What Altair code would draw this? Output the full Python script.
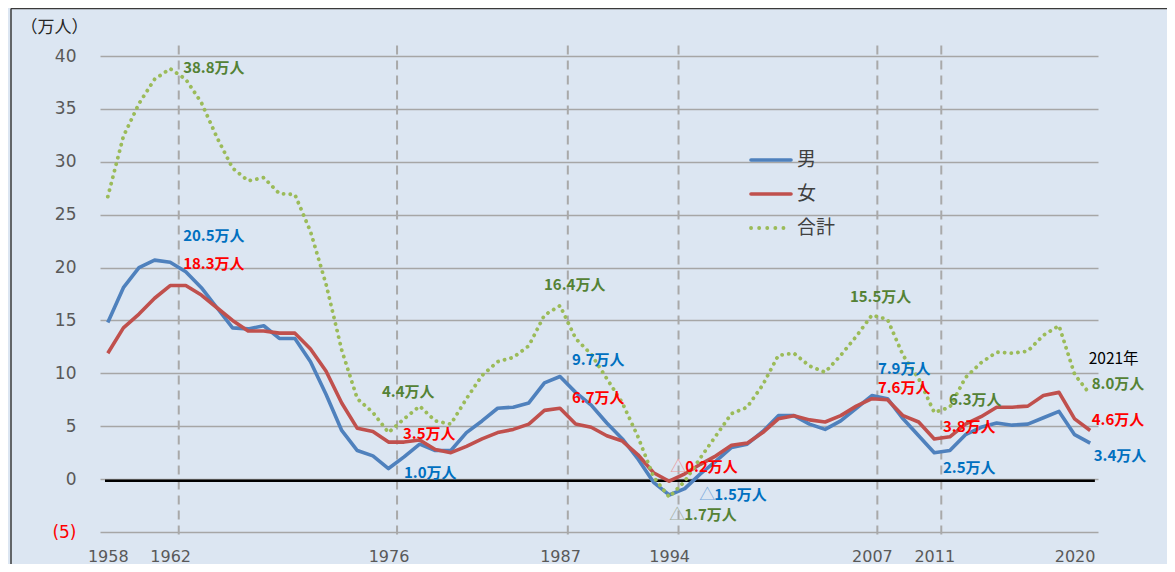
import altair as alt
import pandas as pd

# ---- data (万人) ----
years = list(range(1958, 2022))
male = [14.8, 18.1, 20.0, 20.7, 20.5, 19.6, 18.1, 16.2, 14.3, 14.2,
        14.5, 13.3, 13.3, 11.1, 8.0, 4.6, 2.7, 2.2, 1.0, 2.1,
        3.3, 2.7, 2.7, 4.4, 5.5, 6.7, 6.8, 7.2, 9.1, 9.7,
        8.2, 7.0, 5.3, 3.8, 1.9, -0.3, -1.5, -0.9, 0.5, 1.7,
        3.0, 3.3, 4.5, 6.0, 6.0, 5.2, 4.7, 5.5, 6.7, 7.9,
        7.6, 5.7, 4.1, 2.5, 2.7, 4.2, 4.9, 5.3, 5.1, 5.2,
        5.8, 6.4, 4.2, 3.4]
female = [11.9, 14.3, 15.6, 17.1, 18.3, 18.3, 17.4, 16.2, 15.0, 14.0,
          14.0, 13.8, 13.8, 12.3, 10.2, 7.2, 4.8, 4.5, 3.5, 3.5,
          3.7, 2.8, 2.5, 3.1, 3.8, 4.4, 4.7, 5.2, 6.5, 6.7,
          5.2, 4.9, 4.1, 3.6, 2.3, 0.6, -0.2, 0.5, 1.4, 2.2,
          3.2, 3.4, 4.4, 5.7, 6.0, 5.6, 5.4, 6.0, 6.9, 7.6,
          7.5, 6.0, 5.4, 3.8, 4.0, 5.2, 5.9, 6.8, 6.8, 6.9,
          7.9, 8.2, 5.7, 4.6]
total = [26.7, 32.4, 35.5, 37.8, 38.8, 37.8, 35.6, 32.3, 29.4, 28.2,
         28.5, 27.0, 26.9, 23.4, 18.4, 12.2, 7.6, 6.3, 4.4, 5.7,
         6.9, 5.5, 5.2, 7.6, 9.8, 11.1, 11.5, 12.6, 15.5, 16.4,
         13.3, 11.8, 9.5, 7.2, 4.0, 0.2, -1.7, -0.2, 2.0, 4.1,
         6.2, 6.8, 8.9, 11.7, 11.9, 10.7, 10.1, 11.7, 13.5, 15.5,
         15.1, 11.7, 9.5, 6.3, 6.8, 9.6, 11.0, 12.0, 11.9, 12.1,
         13.6, 14.5, 9.9, 8.0]
series_names = ["男", "女", "合計"]
x_label_years = [1958, 1962, 1976, 1987, 1994, 2007, 2011, 2020]
guide_years = [1962, 1976, 1987, 1994, 2007, 2011]

series_vals = {"男": male, "女": female, "合計": total}

# ---- styles ----
LINE_COL = {"男": "#4f81bd", "女": "#c0504d", "合計": "#9bbb59"}
TEXT_COL = {"男": "#0070c0", "女": "#ff0000", "合計": "#548235"}
TRI_COL = {"男": "#74a6dc", "女": "#eb9a9a", "合計": "#a3aea0"}
AFONT = "Noto Sans CJK JP"
JFONT = "Noto Sans CJK JP"
BG = "#dce6f2"

xs = alt.Scale(domain=[1957.5, 2021.5], nice=False, zero=False)
ys = alt.Scale(domain=[-5, 40], nice=False, zero=False)

x_axis = alt.Axis(values=x_label_years, format="d", grid=False, domain=False,
                  ticks=False, labelFontSize=16, labelColor="#595959",
                  labelFont="DejaVu Sans", labelPadding=16, labelFlush=False,
                  labelOverlap=False, title=None)
y_axis = alt.Axis(values=list(range(-5, 41, 5)), grid=True, gridColor="#a6a6a6",
                  gridWidth=1.5, domain=False, ticks=False, labelFontSize=17,
                  labelFont="DejaVu Sans", labelPadding=24, labelFlush=False,
                  labelColor={"condition": {"test": "datum.value < 0", "value": "#ff0000"},
                              "value": "#595959"},
                  labelExpr="datum.value < 0 ? '(' + abs(datum.value) + ')' : datum.label",
                  title="（万人）", titleAngle=0, titleX=-80, titleY=-29,
                  titleAlign="left", titleBaseline="middle", titleFontSize=17,
                  titleFont=JFONT, titleFontWeight="normal", titleColor="#262626")


def X(field="year"):
    return alt.X(f"{field}:Q", scale=xs, axis=x_axis)


def Y(field="v"):
    return alt.Y(f"{field}:Q", scale=ys, axis=y_axis)


layers = []

# vertical dashed guides
guide_shift = [0.55, 0.55, 0.5, 0.6, 0.35, 0.45]
gdf = pd.DataFrame({"year": [g + s for g, s in zip(guide_years, guide_shift)],
                    "v": [41.0] * len(guide_years), "v2": [-5.75] * len(guide_years)})
layers.append(alt.Chart(gdf).mark_rule(color="#a9a9a9", strokeWidth=2, strokeDash=[9, 6])
              .encode(x=X(), y=Y(), y2="v2:Q"))

# black zero line
zdf = pd.DataFrame({"year": [1957.82], "year2": [2021.3], "v": [-0.15]})
layers.append(alt.Chart(zdf).mark_rule(color="black", strokeWidth=2.5)
              .encode(x=X(), x2="year2:Q", y=Y()))

# series lines
for name in series_names:
    d = pd.DataFrame({"year": years, "v": series_vals[name]})
    if name == "合計":
        mk = alt.Chart(d).mark_line(color=LINE_COL[name], strokeWidth=3.8,
                                    strokeDash=[0.1, 6.6], strokeCap="round")
    else:
        mk = alt.Chart(d).mark_line(color=LINE_COL[name], strokeWidth=3.6,
                                    strokeJoin="round")
    layers.append(mk.encode(x=X(), y=Y()))

# annotations: (series, year, dx, dy)
ann = [
    ("合計", 1962, 13, -1), ("男", 1962, 13, -26), ("女", 1962, 13, -21.5),
    ("合計", 1976, -6.5, -41), ("女", 1976, 14.5, -8.5), ("男", 1976, 15.5, 4.5),
    ("合計", 1987, -16, -20.5), ("男", 1987, 12, -17), ("女", 1987, 12, -10),
    ("女", 1994, 1, -14.7), ("男", 1994, 30, 0), ("合計", 1994, 0, 18.3),
    ("合計", 2007, -22, -18.4), ("男", 2007, 6, -27), ("女", 2007, 6, -11),
    ("合計", 2011, 14.7, -12.5), ("女", 2011, 8.7, -12), ("男", 2011, 8.7, 15.6),
    ("合計", 2021, 1.5, -10), ("女", 2021, 1.5, -10.3), ("男", 2021, 3.5, 12.5),
]
for name, yr, dx, dy in ann:
    val = series_vals[name][years.index(yr)]
    num = f"{abs(val):.1f}万人"
    d = pd.DataFrame({"year": [yr], "v": [val], "t": [num], "tri": ["△"]})
    if val < 0:
        layers.append(alt.Chart(d).mark_text(align="left", baseline="middle", dx=dx, dy=dy,
                                             font=AFONT, fontSize=16, color=TRI_COL[name])
                      .encode(x=X(), y=Y(), text="tri:N"))
        dx = dx + 15
    layers.append(alt.Chart(d).mark_text(align="left", baseline="middle", dx=dx, dy=dy,
                                         font=AFONT, fontSize=15, fontWeight="bold",
                                         color=TEXT_COL[name])
                  .encode(x=X(), y=Y(), text="t:N"))

# "2021年" tag above last total label
d21 = pd.DataFrame({"year": [2021], "v": [total[-1]], "t": ["2021年"]})
layers.append(alt.Chart(d21).mark_text(align="left", baseline="middle", dx=-1.5, dy=-35,
                                       font=AFONT, fontSize=15.5, color="#000000")
              .encode(x=X(), y=Y(), text="t:N"))

# legend (manual)
one = pd.DataFrame({"a": [0]})
leg_y = [104, 138, 172]
for name, ly in zip(series_names, leg_y):
    if name == "合計":
        rule = alt.Chart(one).mark_rule(color=LINE_COL[name], strokeWidth=3.8,
                                        strokeDash=[0.1, 8], strokeCap="round")
    else:
        rule = alt.Chart(one).mark_rule(color=LINE_COL[name], strokeWidth=3.6, strokeCap="round")
    layers.append(rule.encode(x=alt.value(651), x2=alt.value(691), y=alt.value(ly)))
    layers.append(alt.Chart(one).mark_text(align="left", baseline="middle", font=JFONT,
                                           fontSize=19, color="#404040", text=name)
                  .encode(x=alt.value(697), y=alt.value(ly)))

# outer frame lines
layers.append(alt.Chart(one).mark_rule(color="#3a3a3a", strokeWidth=1.5)
              .encode(x=alt.value(-89), y=alt.value(-47.5), y2=alt.value(520)))
layers.append(alt.Chart(one).mark_rule(color="#3a3a3a", strokeWidth=1.5)
              .encode(x=alt.value(-89), x2=alt.value(1080), y=alt.value(-47.5)))

chart = alt.layer(*layers).properties(
    width=998, height=476, background=BG,
    padding={"left": 92, "top": 48, "right": 69, "bottom": 32},
    autosize=alt.AutoSizeParams(type="none"),
).configure_view(strokeWidth=0)

chart.save("out.html", embed_options={"renderer": "svg", "actions": False})
